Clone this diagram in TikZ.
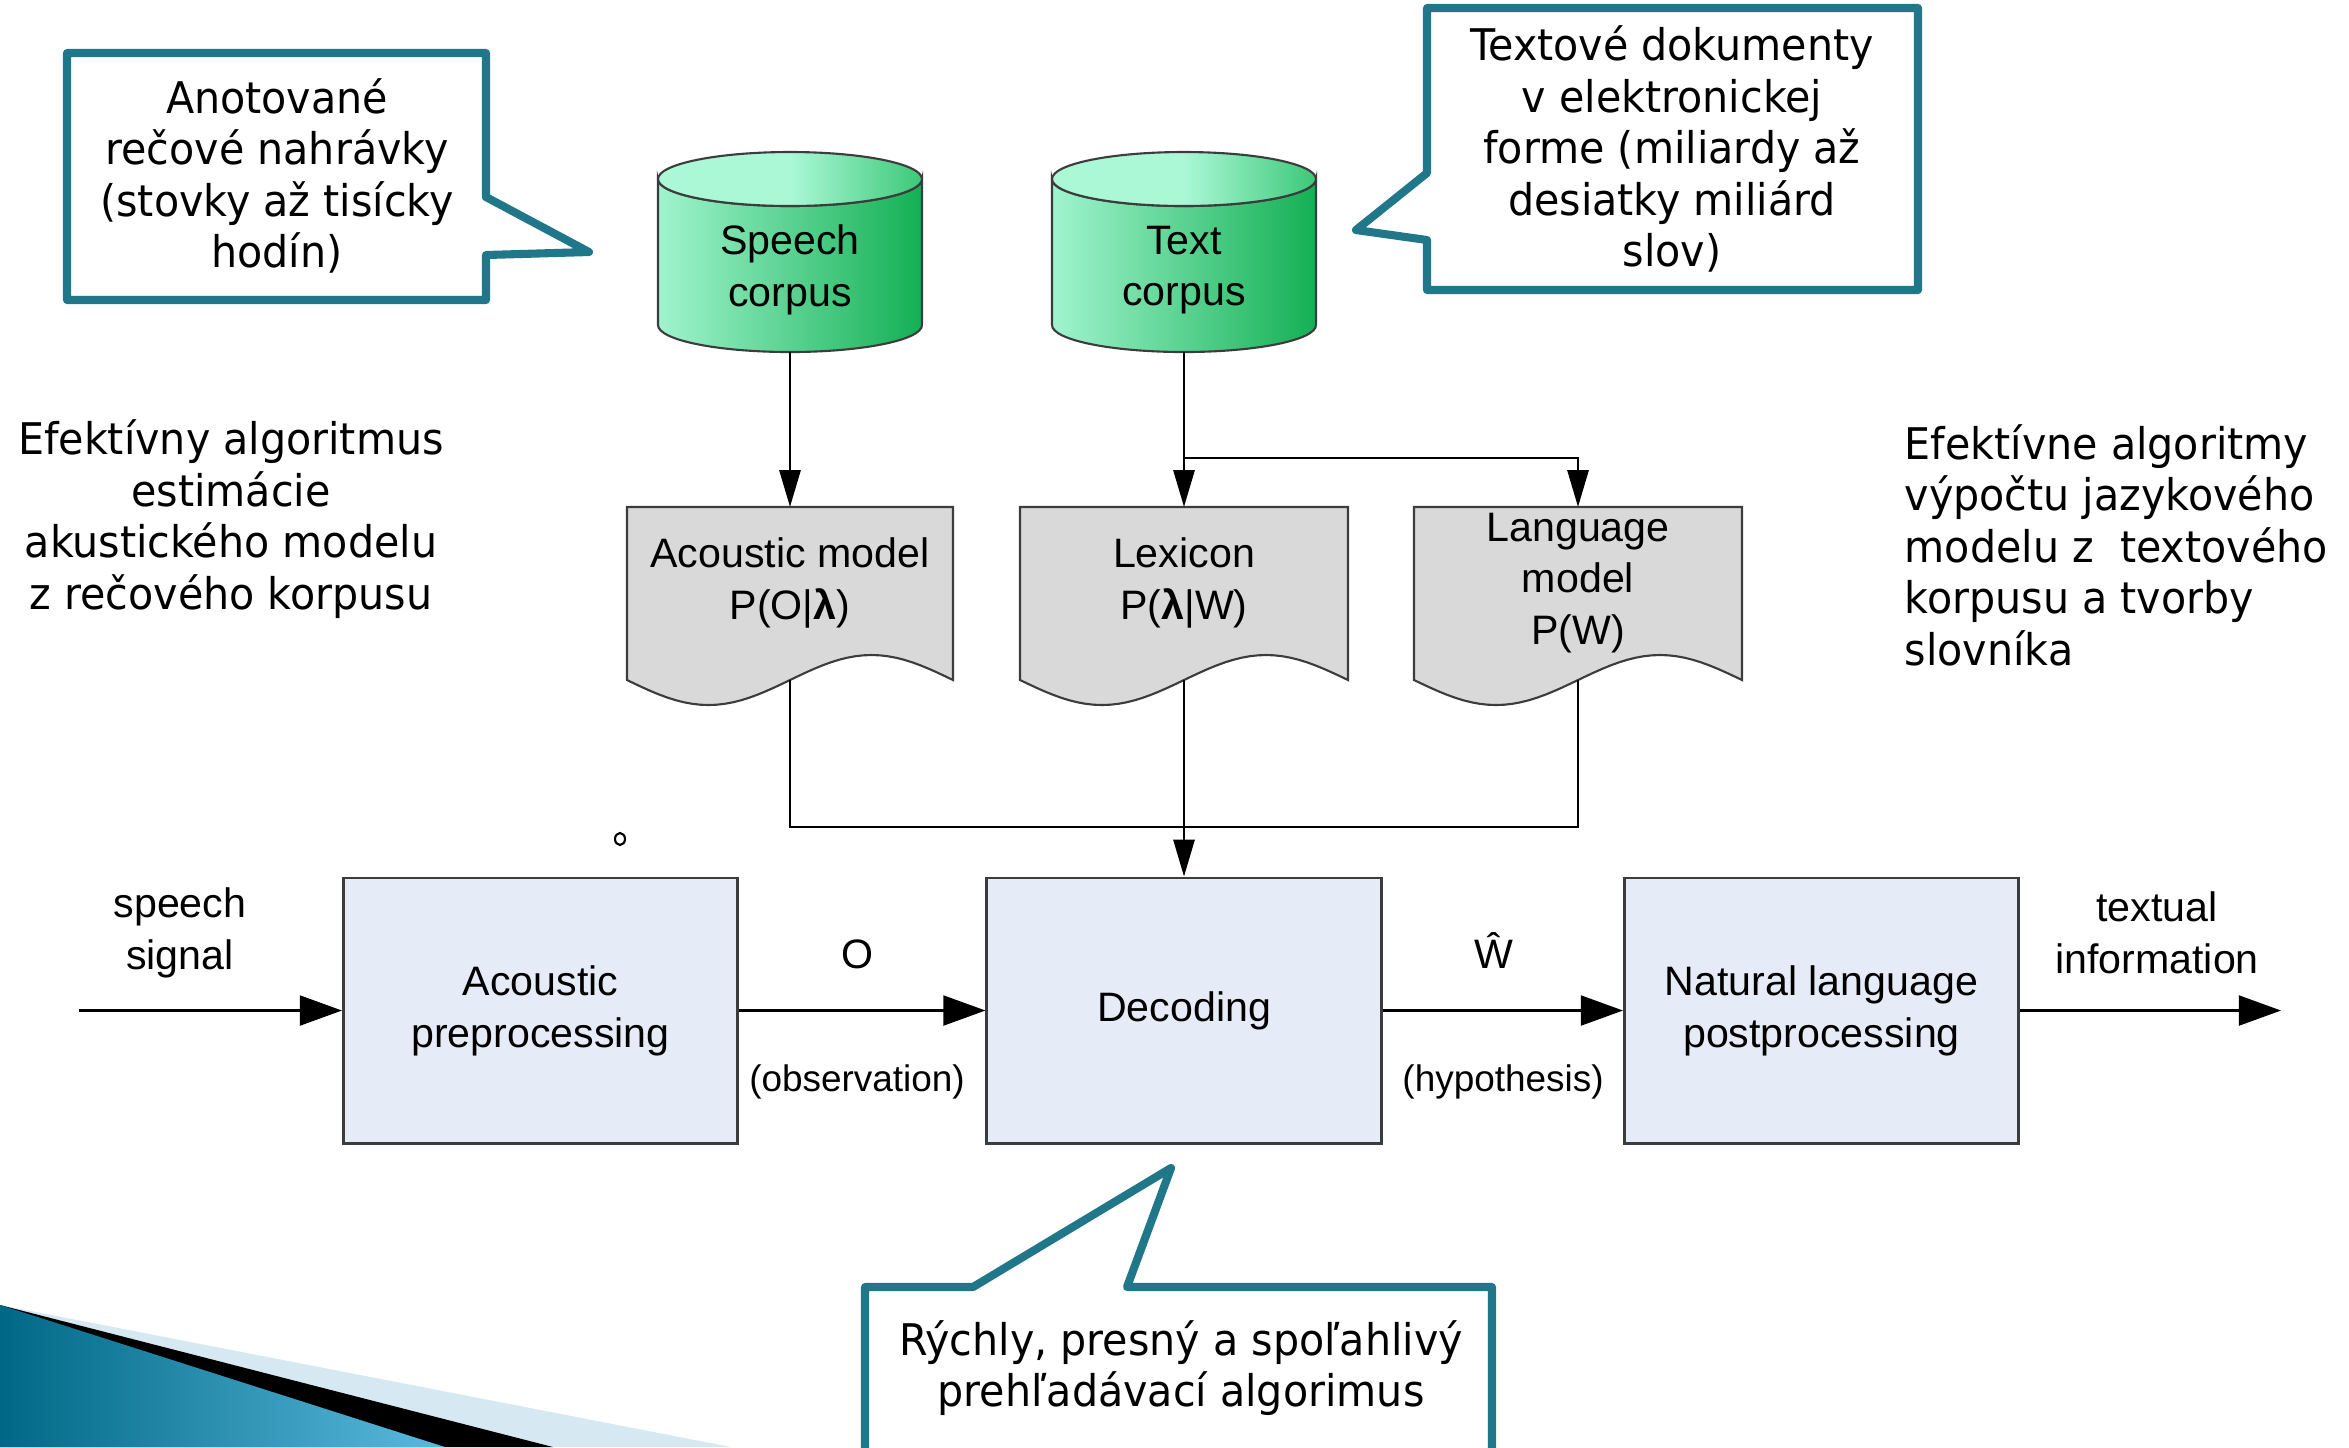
\documentclass[tikz,border=0pt]{standalone}
\usepackage{fontspec}
\setmainfont{Liberation Sans}
\newfontfamily\slidefont{DejaVu Sans}[FakeStretch=0.945]
\usetikzlibrary{arrows.meta}
\definecolor{calloutc}{RGB}{33,119,138}
\definecolor{procfill}{RGB}{230,236,247}
\definecolor{docfill}{RGB}{217,217,217}
\definecolor{edgec}{RGB}{60,60,60}
\definecolor{cylL}{RGB}{160,244,206}
\definecolor{cylM}{RGB}{120,228,172}
\definecolor{cylR}{RGB}{20,176,84}
\definecolor{cylTopL}{RGB}{170,248,214}
\definecolor{cylTopR}{RGB}{60,200,120}
\definecolor{decoA}{RGB}{0,104,134}
\definecolor{decoB}{RGB}{90,186,222}
\definecolor{decoLight}{RGB}{214,232,241}
\tikzset{
  diag/.style={font=\fontsize{11.7}{14.7}\selectfont, align=center},
  diagsmall/.style={font=\fontsize{10.5}{13}\selectfont, align=center},
  slide/.style={font=\slidefont\fontsize{12.4}{14.65}\selectfont},
  callout/.style={draw=calloutc, line width=2.3pt, fill=white, line join=round},
  proc/.style={draw=edgec, fill=procfill, line width=0.8pt, minimum width=3.94cm, minimum height=2.65cm, inner sep=0pt, diag},
  docst/.style={draw=edgec, fill=docfill, line width=0.6pt},
  cylst/.style={draw=edgec, line width=0.6pt},
  frame/.style={inner sep=0pt, outer sep=0pt},
  conn/.style={draw=black, line width=0.75pt},
  harrow/.style={-{Triangle[length=12pt,width=8.5pt]}},
  varrow/.style={-{Triangle[length=10.5pt,width=6pt]}},
}
\begin{document}
\begin{tikzpicture}[x=0.01cm, y=-0.01cm]
\useasboundingbox (0,0) rectangle (2349,1447);
\clip (0,0) rectangle (2349,1447);

% bottom-left decoration
\fill[decoLight] (0,1305) -- (731,1447) -- (0,1447) -- cycle;
\fill[black] (0,1305) -- (553,1447) -- (0,1447) -- cycle;
\shade[left color=decoA, right color=decoB] (0,1305) -- (445,1447) -- (0,1447) -- cycle;

% callouts
\draw[callout] (67,53) -- (486,53) -- (486,197) -- (589,252) -- (486,255) -- (486,300) -- (67,300) -- cycle;
\node[slide, align=center] (c1) at (277,176) {Anotované\\rečové nahrávky\\(stovky až tisícky\\hodín)};

\draw[callout] (1427,8) -- (1918,8) -- (1918,290) -- (1427,290) -- (1427,240) -- (1356,230) -- (1427,173) -- cycle;
\node[slide, align=center] (c2) at (1672,149) {Textové dokumenty\\v elektronickej\\forme (miliardy až\\desiatky miliárd\\slov)};

\draw[callout] (865,1287) -- (973,1287) -- (1171,1168) -- (1127,1287) -- (1492,1287) -- (1492,1480) -- (865,1480) -- cycle;
\node[slide, align=center] (c3) at (1181,1368) {Rýchly, presný a spoľahlivý\\prehľadávací algorimus};

% side texts
\node[slide, align=center] (lefttxt) at (231,519) {Efektívny algoritmus\\estimácie\\akustického modelu\\z rečového korpusu};
\node[slide, align=left, anchor=west, inner sep=0pt] (righttxt) at (1904,545) {Efektívne algoritmy\\výpočtu jazykového\\modelu z~ textového\\korpusu a tvorby\\slovníka};

% cylinders
\shade[cylst, left color=cylL, middle color=cylM, right color=cylR]
  (658,179) -- (658,325) arc[start angle=180, end angle=0, x radius=132, y radius=27]
  -- (922,179) arc[start angle=0, end angle=180, x radius=132, y radius=27] -- cycle;
\shade[cylst, left color=cylTopL, right color=cylTopR, middle color=cylTopL] (790,179) ellipse[x radius=132, y radius=27];
\node[frame, minimum width=2.64cm, minimum height=2cm] (sc) at (790,252) {};
\node[diag] (sct) at (790,270) {Speech\\corpus};

\shade[cylst, left color=cylL, middle color=cylM, right color=cylR]
  (1052,179) -- (1052,325) arc[start angle=180, end angle=0, x radius=132, y radius=27]
  -- (1316,179) arc[start angle=0, end angle=180, x radius=132, y radius=27] -- cycle;
\shade[cylst, left color=cylTopL, right color=cylTopR, middle color=cylTopL] (1184,179) ellipse[x radius=132, y radius=27];
\node[frame, minimum width=2.64cm, minimum height=2cm] (tc) at (1184,252) {};
\node[diag] (tct) at (1184,270) {Text\\corpus};

% document shapes
\filldraw[docst] (627,680) -- (627,507) -- (953,507) -- (953,680)
  -- plot[domain=1:0, samples=41, variable=\t] ({627+326*\t},{680+25*sin(360*\t)}) -- cycle;
\node[frame, minimum width=3.26cm, minimum height=1.73cm] (am) at (790,593.5) {};
\node[diag] (amt) at (790,583) {Acoustic model\\P(O|\textbf{λ})};

\filldraw[docst] (1020,680) -- (1020,507) -- (1348,507) -- (1348,680)
  -- plot[domain=1:0, samples=41, variable=\t] ({1020+328*\t},{680+25*sin(360*\t)}) -- cycle;
\node[frame, minimum width=3.28cm, minimum height=1.73cm] (lex) at (1184,593.5) {};
\node[diag] (lext) at (1184,583) {Lexicon\\P(\textbf{λ}|W)};

\filldraw[docst] (1414,680) -- (1414,507) -- (1742,507) -- (1742,680)
  -- plot[domain=1:0, samples=41, variable=\t] ({1414+328*\t},{680+25*sin(360*\t)}) -- cycle;
\node[frame, minimum width=3.28cm, minimum height=1.73cm] (lm) at (1578,593.5) {};
\node[diag] (lmt) at (1578,583) {Language\\model\\P(W)};

% process boxes
\node[proc] (ap) at (540.5,1010.5) {Acoustic\\preprocessing};
\node[proc] (dec) at (1184,1010.5) {Decoding};
\node[proc] (nlp) at (1821.5,1010.5) {Natural language\\postprocessing};

% coordinates
\coordinate (sig) at (79,1010.5);
\coordinate (out) at (2281,1010.5);
\coordinate (br) at (1184,458);
\coordinate (jn) at (1184,827);

% connectors
\draw[conn,varrow] (sc.south) -- (am.north);
\draw[conn,varrow] (tc.south) -- (lex.north);
\draw[conn,varrow] (br) -| (lm.north);
\draw[conn] (am.south) |- (jn) -| (lm.south);
\draw[conn,varrow] (lex.south) -- (dec.north);
\draw[conn,harrow] (sig) -- (ap.west);
\draw[conn,harrow] (ap.east) -- (dec.west);
\draw[conn,harrow] (dec.east) -- (nlp.west);
\draw[conn,harrow] (nlp.east) -- (out);

% labels
\node[diag] (lsig) at (180,933) {speech\\signal};
\node[diag] (lout) at (2157,933) {textual\\information};
\node[diag] (lO) at (857,954) {O};
\node[diagsmall] (lobs) at (857,1082) {(observation)};
\node[diag] (lW) at (1494,950) {Ŵ};
\node[diagsmall] (lhyp) at (1503,1082) {(hypothesis)};
\draw[line width=0.6pt] (620,839) ellipse[x radius=5, y radius=6];
\end{tikzpicture}
\end{document}
